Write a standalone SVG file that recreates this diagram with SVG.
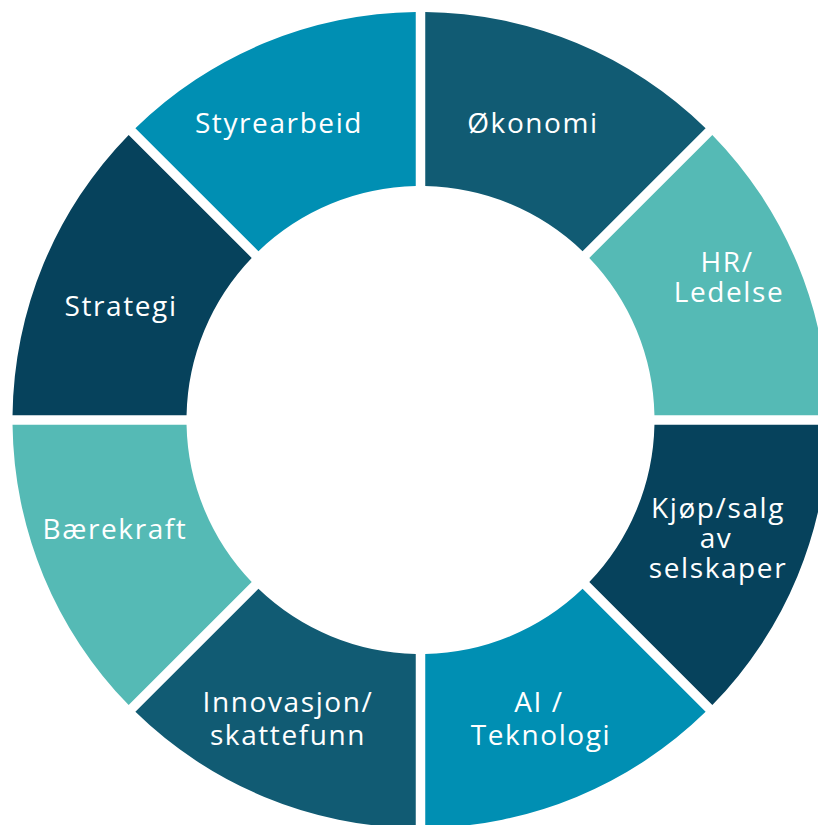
<svg xmlns="http://www.w3.org/2000/svg" width="818" height="825" viewBox="0 0 818 825">
  <defs>
    <path id="seg" d="M 425.25 12.03 A 408 408 0 0 1 705.62 128.16 L 582.57 251.21 A 234 234 0 0 0 425.25 186.05 Z"/>
    <style>
      .lbl { font-family: "Open Sans", "Noto Sans", sans-serif; font-size: 28px; letter-spacing: 1.6px; fill: #ffffff; text-anchor: middle; }
      .c1 { fill: #115b73; }
      .c2 { fill: #55bab5; }
      .c3 { fill: #06425c; }
      .c4 { fill: #008fb3; }
    </style>
  </defs>
  <rect width="818" height="825" fill="#ffffff"/>
  <g id="okonomi">
    <use href="#seg" class="c1"/>
    <text class="lbl" x="533" y="133">Økonomi</text>
  </g>
  <g id="hr-ledelse">
    <use href="#seg" class="c2" transform="rotate(45 420.5 420)"/>
    <text class="lbl" x="727" y="272">HR/</text>
    <text class="lbl" x="729" y="302">Ledelse</text>
  </g>
  <g id="kjop-salg">
    <use href="#seg" class="c3" transform="rotate(90 420.5 420)"/>
    <text class="lbl" x="718" y="518">Kjøp/salg</text>
    <text class="lbl" x="716" y="548">av</text>
    <text class="lbl" x="718" y="578">selskaper</text>
  </g>
  <g id="ai-teknologi">
    <use href="#seg" class="c4" transform="rotate(135 420.5 420)"/>
    <text class="lbl" x="539" y="712">AI /</text>
    <text class="lbl" x="541" y="745">Teknologi</text>
  </g>
  <g id="innovasjon">
    <use href="#seg" class="c1" transform="rotate(180 420.5 420)"/>
    <text class="lbl" x="288" y="712">Innovasjon/</text>
    <text class="lbl" x="288" y="745">skattefunn</text>
  </g>
  <g id="baerekraft">
    <use href="#seg" class="c2" transform="rotate(225 420.5 420)"/>
    <text class="lbl" x="115" y="539">Bærekraft</text>
  </g>
  <g id="strategi">
    <use href="#seg" class="c3" transform="rotate(270 420.5 420)"/>
    <text class="lbl" x="121" y="316">Strategi</text>
  </g>
  <g id="styrearbeid">
    <use href="#seg" class="c4" transform="rotate(315 420.5 420)"/>
    <text class="lbl" x="279" y="133">Styrearbeid</text>
  </g>
  <g id="connectors"/>
</svg>
